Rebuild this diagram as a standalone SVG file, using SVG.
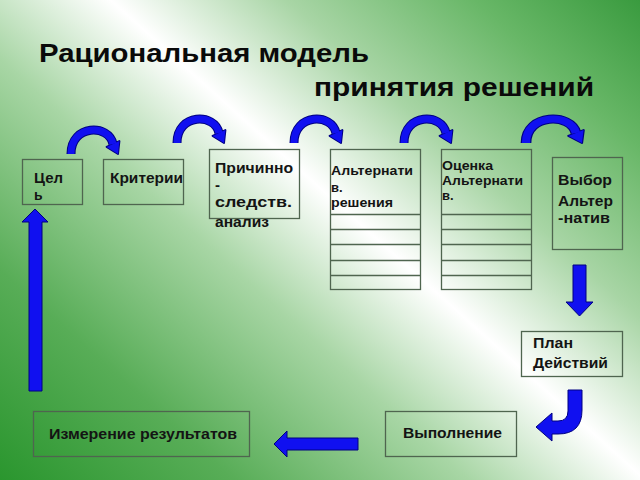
<svg xmlns="http://www.w3.org/2000/svg" width="640" height="480" viewBox="0 0 640 480">
<defs>
<linearGradient id="bg" gradientUnits="userSpaceOnUse" x1="-178" y1="321" x2="346" y2="-263">
<stop offset="0" stop-color="#2a962e"/>
<stop offset="0.2" stop-color="#58ad57"/>
<stop offset="0.4" stop-color="#a8d6a5"/>
<stop offset="0.55" stop-color="#ffffff"/>
<stop offset="0.7" stop-color="#a8d5a5"/>
<stop offset="0.86" stop-color="#68b767"/>
<stop offset="1" stop-color="#3a9b3f"/>
</linearGradient>
<g id="arc">
<path d="M0 0 C0 -30 38 -30 42 -10" fill="none" stroke="#000080" stroke-width="9"/>
<polygon points="35.6,-7.1 48.4,-12.9 47,0" fill="#000080" stroke="#000080" stroke-width="2" stroke-linejoin="round"/>
<path d="M0 0 C0 -30 38 -30 42 -10" fill="none" stroke="#1010f0" stroke-width="7"/>
<polygon points="35.6,-7.1 48.4,-12.9 47,0" fill="#1010f0"/>
</g>
</defs>
<style>
.box{fill:none;stroke:#4f654f;stroke-width:1.3}
.t{font-family:"Liberation Sans",Arial,sans-serif;font-weight:bold;fill:#141414}
.s15{font-size:15px}
.s14{font-size:14px}
.s13{font-size:13px}
.title{font-family:"Liberation Sans",Arial,sans-serif;font-weight:bold;font-size:26px;fill:#0a0a0a}
.arr{fill:#1010f0;stroke:#000080;stroke-width:1}
</style>
<rect x="0" y="0" width="640" height="480" fill="url(#bg)"/>

<g id="title">
<text class="title" x="39" y="62" textLength="330" lengthAdjust="spacingAndGlyphs">Рациональная модель</text>
<text class="title" x="314" y="96" textLength="280" lengthAdjust="spacingAndGlyphs">принятия решений</text>
</g>

<g id="node-goal">
<rect class="box" x="22.5" y="159.5" width="60" height="45"/>
<text class="t s14" x="34" y="183" textLength="29" lengthAdjust="spacingAndGlyphs">Цел</text>
<text class="t s14" x="34" y="200">ь</text>
</g>
<g id="node-criteria">
<rect class="box" x="103.5" y="159.5" width="80" height="45"/>
<text class="t s14" x="110" y="183" textLength="73" lengthAdjust="spacingAndGlyphs">Критерии</text>
</g>
<g id="node-cause">
<rect class="box" x="209.5" y="149.5" width="90" height="69"/>
<text class="t s15" x="215" y="173" textLength="78" lengthAdjust="spacingAndGlyphs">Причинно</text>
<text class="t s15" x="215" y="190">-</text>
<text class="t s15" x="215" y="207" textLength="77" lengthAdjust="spacingAndGlyphs">следств.</text>
<text class="t s15" x="215" y="227" textLength="54" lengthAdjust="spacingAndGlyphs">анализ</text>
</g>
<g id="node-alternatives">
<rect class="box" x="330.5" y="149.5" width="90" height="140"/>
<path class="box" d="M330.5 214.5H420.5M330.5 229.5H420.5M330.5 244.5H420.5M330.5 260.5H420.5M330.5 275.5H420.5"/>
<text class="t s13" x="331" y="175" textLength="82" lengthAdjust="spacingAndGlyphs">Альтернати</text>
<text class="t s13" x="331" y="192">в.</text>
<text class="t s13" x="331" y="207" textLength="62" lengthAdjust="spacingAndGlyphs">решения</text>
</g>
<g id="node-evaluation">
<rect class="box" x="441.5" y="149.5" width="90" height="140"/>
<path class="box" d="M441.5 214.5H531.5M441.5 229.5H531.5M441.5 244.5H531.5M441.5 260.5H531.5M441.5 275.5H531.5"/>
<text class="t s13" x="442" y="170" textLength="51" lengthAdjust="spacingAndGlyphs">Оценка</text>
<text class="t s13" x="442" y="185" textLength="81" lengthAdjust="spacingAndGlyphs">Альтернати</text>
<text class="t s13" x="442" y="200">в.</text>
</g>
<g id="node-choice">
<rect class="box" x="552.5" y="157.5" width="70" height="92"/>
<text class="t s15" x="558" y="185" textLength="54" lengthAdjust="spacingAndGlyphs">Выбор</text>
<text class="t s15" x="558" y="206" textLength="55" lengthAdjust="spacingAndGlyphs">Альтер</text>
<text class="t s15" x="558" y="223" textLength="52" lengthAdjust="spacingAndGlyphs">-натив</text>
</g>
<g id="node-plan">
<rect class="box" x="521.5" y="331.5" width="101" height="45"/>
<text class="t s15" x="533" y="348" textLength="40" lengthAdjust="spacingAndGlyphs">План</text>
<text class="t s15" x="533" y="368" textLength="75" lengthAdjust="spacingAndGlyphs">Действий</text>
</g>
<g id="node-execution">
<rect class="box" x="385.5" y="411.5" width="131" height="45"/>
<text class="t s15" x="403" y="438" textLength="99" lengthAdjust="spacingAndGlyphs">Выполнение</text>
</g>
<g id="node-measure">
<rect class="box" x="33.5" y="411.5" width="216" height="45"/>
<text class="t s15" x="49" y="439" textLength="188" lengthAdjust="spacingAndGlyphs">Измерение результатов</text>
</g>

<g id="connectors">
<use href="#arc" transform="translate(71,154)"/>
<use href="#arc" transform="translate(177,143)"/>
<use href="#arc" transform="translate(294,143)"/>
<use href="#arc" transform="translate(404,143)"/>
<use href="#arc" transform="translate(526,143) scale(1.19,1)"/>
<polygon class="arr" points="573,265 586,265 586,302 593,302 579.5,316 566,302 573,302"/>
<path class="arr" d="M568 390 L582 390 L582 410 Q582 434 558 434 L552 434 L552 441 L536 427 L552 413 L552 421 L558 421 Q568 421 568 411 Z"/>
<polygon class="arr" points="358,438 358,450 287,450 287,457 274,444 287,431 287,438"/>
<polygon class="arr" points="29,391 42,391 42,222 48,222 35,209 22,222 29,222"/>
</g>
</svg>
